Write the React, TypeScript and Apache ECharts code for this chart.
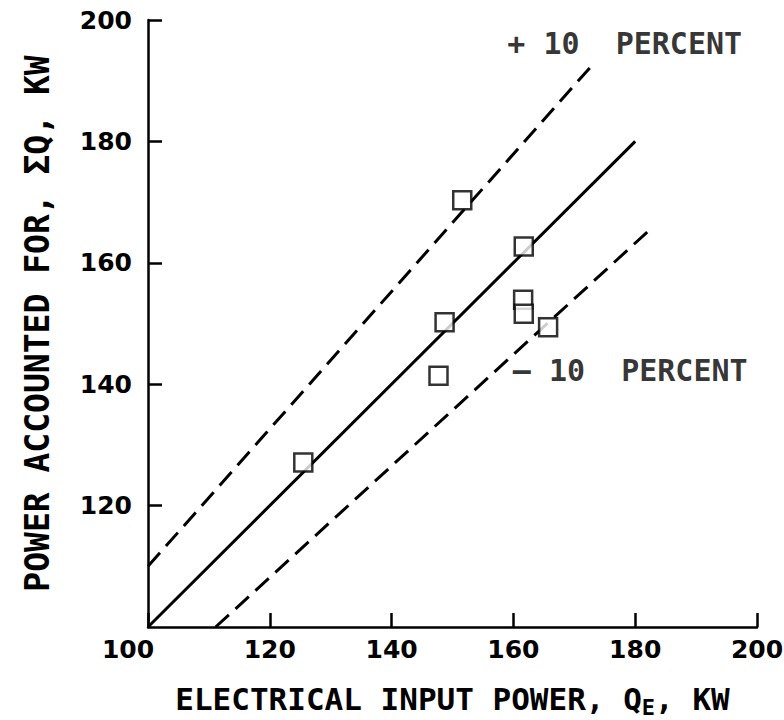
import React, { useEffect, useRef } from "react";
import * as echarts from "echarts";

const xTicks = [100, 120, 140, 160, 180, 200];
const yTicks = [100, 120, 140, 160, 180, 200];

// measured points: [electrical input power, power accounted for]
const measured: [number, number][] = [
  [125.5, 127.1],
  [147.7, 141.4],
  [148.7, 150.2],
  [151.6, 170.3],
  [161.7, 162.7],
  [161.6, 153.9],
  [161.7, 151.6],
  [165.7, 149.4],
];

const equalityLine: [number, number][] = [
  [100, 100],
  [180, 180],
];
const plusTenLine: [number, number][] = [
  [100, 110],
  [173.5, 193.2],
];
const minusTenLine: [number, number][] = [
  [111.1, 100],
  [183, 166],
];

const annotationTexts = ["+ 10  PERCENT", "\u2013 10  PERCENT"];
const annotationCoords: [number, number][] = [
  [159, 196.2],
  [159.9, 142.3],
];

const FONT = "DejaVu Sans";
const MONO = "DejaVu Sans Mono";

export default function App() {
  const ref = useRef<HTMLDivElement>(null);

  useEffect(() => {
    if (!ref.current) return;
    const chart = echarts.init(ref.current, null, { renderer: "svg" });

    const dashed = {
      color: "#000",
      width: 3,
      type: [18, 9] as any,
      cap: "butt" as const,
    };

    chart.setOption({
      animation: false,
      backgroundColor: "#fff",
      grid: {
        left: 148,
        top: 20,
        right: 27,
        bottom: 93,
        containLabel: false,
        outerBoundsMode: "none",
      },
      xAxis: {
        type: "value",
        min: xTicks[0],
        max: xTicks[xTicks.length - 1],
        interval: 20,
        name: "ELECTRICAL INPUT POWER, Q{sub|E}, KW",
        nameLocation: "middle",
        nameGap: 53,
        nameTextStyle: {
          fontFamily: MONO,
          fontSize: 31,
          fontWeight: "bold",
          color: "#000",
          rich: {
            sub: {
              fontFamily: MONO,
              fontSize: 22,
              fontWeight: "bold",
              color: "#000",
              verticalAlign: "bottom",
              padding: [16, 0, 0, 0],
            },
          },
        },
        axisLine: { show: true, lineStyle: { color: "#000", width: 2.5 } },
        axisTick: {
          show: true,
          inside: true,
          length: 14,
          lineStyle: { color: "#000", width: 2.5 },
        },
        axisLabel: {
          margin: 10,
          color: "#000",
          fontFamily: FONT,
          fontSize: 25,
          fontWeight: "bold",
          formatter: (v: number) =>
            v === xTicks[0] ? "{first|" + v + "}" : String(v),
          rich: {
            first: {
              fontFamily: FONT,
              fontSize: 25,
              fontWeight: "bold",
              color: "#000",
              padding: [0, 40, 0, 0],
            },
          },
        },
        splitLine: { show: false },
      },
      yAxis: {
        type: "value",
        min: yTicks[0],
        max: yTicks[yTicks.length - 1],
        interval: 20,
        name: "POWER ACCOUNTED FOR, \u03A3Q, KW",
        nameLocation: "middle",
        nameGap: 94,
        nameRotate: 90,
        nameTextStyle: {
          fontFamily: MONO,
          fontSize: 33,
          fontWeight: "bold",
          color: "#000",
        },
        axisLine: { show: true, lineStyle: { color: "#000", width: 2.5 } },
        axisTick: {
          show: true,
          inside: true,
          length: 14,
          lineStyle: { color: "#000", width: 2.5 },
        },
        axisLabel: {
          margin: 16,
          color: "#000",
          fontFamily: FONT,
          fontSize: 25,
          fontWeight: "bold",
          showMinLabel: false,
        },
        splitLine: { show: false },
      },
      series: [
        {
          type: "line",
          data: equalityLine,
          showSymbol: false,
          lineStyle: { color: "#000", width: 3 },
          z: 2,
        },
        {
          type: "line",
          data: plusTenLine,
          showSymbol: false,
          lineStyle: dashed,
          z: 2,
        },
        {
          type: "line",
          data: minusTenLine,
          showSymbol: false,
          lineStyle: dashed,
          z: 2,
        },
        {
          type: "scatter",
          data: measured,
          symbol: "rect",
          symbolSize: 18,
          itemStyle: { color: "#fff", borderColor: "#000", borderWidth: 2.5 },
          z: 5,
        },
        {
          type: "scatter",
          data: annotationCoords.map((c, i) => ({
            value: c,
            label: { formatter: annotationTexts[i] },
          })),
          symbolSize: 0,
          label: {
            show: true,
            position: "right",
            distance: 0,
            color: "#000",
            fontFamily: MONO,
            fontSize: 30,
            fontWeight: "bold",
          },
          z: 6,
        },
      ],
    });

    return () => chart.dispose();
  }, []);

  return (
    <div
      ref={ref}
      style={{ position: "fixed", left: 0, top: 0, width: 784, height: 720 }}
    />
  );
}
